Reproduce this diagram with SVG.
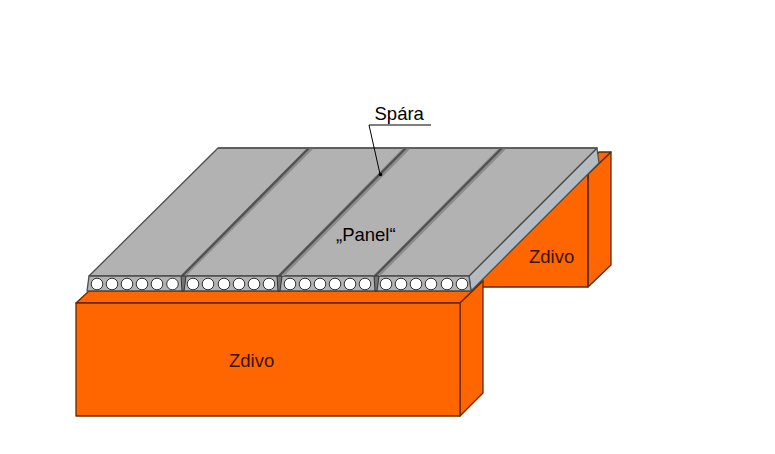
<svg xmlns="http://www.w3.org/2000/svg" width="775" height="454" viewBox="0 0 775 454">
<style>
.b{fill:#ff6600;stroke:#662900;stroke-width:1.3;stroke-linejoin:round}
.p{fill:#b2b2b2;stroke:#4d4d4d;stroke-width:1.3;stroke-linejoin:round}
.j{fill:#8c8c8c;stroke:none}
.e{fill:none;stroke:#505050;stroke-width:2.2}
.w{fill:#757575;stroke:#333;stroke-width:1}
.h{fill:#fff;stroke:#333;stroke-width:1}
.t{font-family:"Liberation Sans",Arial,sans-serif;font-size:18.500px;fill:#000}
.d{fill:#3a1500}
</style>
<rect width="775" height="454" fill="#fff"/>
<g id="zdivo-back">
<polygon class="b" points="588,287 611,265 611,152 588,174"/>
<polygon class="b" points="470,292 599,152 611,152 588,174 588,287 483,287"/>
<line x1="588" y1="174" x2="588" y2="287" stroke="#662900" stroke-width="1.3"/>
<text class="t d" x="529" y="263">Zdivo</text>
</g>
<g id="zdivo-front">
<polygon class="b" points="76,303 89,291 470,291 483,281 460,303"/>
<polygon class="b" points="460,303 483,281 483,393 460,416"/>
<rect class="b" x="76" y="303" width="384" height="113"/>
<text class="t d" x="229" y="367">Zdivo</text>
</g>
<g id="panel">
<polygon fill="#b4bcc2" stroke="#4d4d4d" stroke-width="1.3" stroke-linejoin="round" points="469,276 597,148 599,163 471,291"/>
<polygon class="p" points="89,276 218,148 597,148 469,276"/>
<polygon class="p" points="89,276 469,276 471,291 87,291"/>
<polygon class="j" points="180,276 307,148 314,148 186,276"/>
<polygon class="j" points="277,276 403,148 411,148 284,276"/>
<polygon class="j" points="373,276 499,148 507,148 380,276"/>
<path class="e" d="M182,276L309,148M279,276L406,148M375,276L502,148"/>
<polygon class="w" points="181,276 186,276 184,291 182,291"/>
<polygon class="w" points="277,276 282,276 280,291 278,291"/>
<polygon class="w" points="374,276 379,276 377,291 375,291"/>
<line x1="218" y1="148" x2="597" y2="148" stroke="#5a5a5a" stroke-width="1.600"/>
<g class="h">
<circle cx="97" cy="284" r="5.800"/><circle cx="112" cy="284" r="5.800"/><circle cx="127" cy="284" r="5.800"/><circle cx="142" cy="284" r="5.800"/><circle cx="157" cy="284" r="5.800"/><circle cx="172.500" cy="284" r="5.800"/>
<circle cx="193" cy="284" r="5.800"/><circle cx="208" cy="284" r="5.800"/><circle cx="224" cy="284" r="5.800"/><circle cx="239" cy="284" r="5.800"/><circle cx="254" cy="284" r="5.800"/><circle cx="269" cy="284" r="5.800"/>
<circle cx="290" cy="284" r="5.800"/><circle cx="305" cy="284" r="5.800"/><circle cx="320" cy="284" r="5.800"/><circle cx="335" cy="284" r="5.800"/><circle cx="350" cy="284" r="5.800"/><circle cx="365" cy="284" r="5.800"/>
<circle cx="386" cy="284" r="5.800"/><circle cx="401" cy="284" r="5.800"/><circle cx="416" cy="284" r="5.800"/><circle cx="431" cy="284" r="5.800"/><circle cx="447" cy="284" r="5.800"/><circle cx="462" cy="284" r="5.800"/>
</g>
<text class="t" x="336" y="241">„Panel“</text>
</g>
<g id="connectors">
<polyline points="431,125 369,125 380,174" fill="none" stroke="#000" stroke-width="1"/>
<circle cx="380.500" cy="174.500" r="1.800" fill="#000"/>
</g>
<g id="label-spara"><text class="t" x="374.500" y="120">Spára</text></g>
</svg>
